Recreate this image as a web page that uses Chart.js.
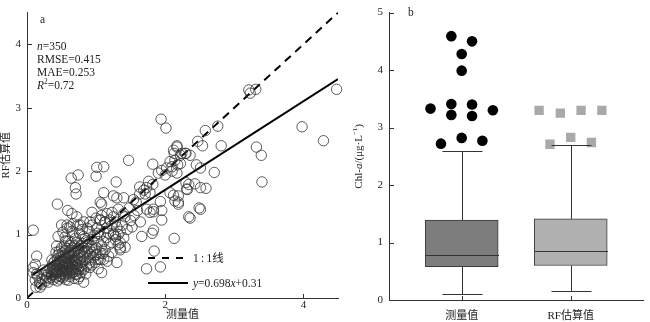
<!DOCTYPE html>
<html>
<head>
<meta charset="utf-8">
<script src="https://cdn.jsdelivr.net/npm/chart.js@4.4.1/dist/chart.umd.min.js"></script>
<style>
  html, body { margin: 0; padding: 0; background: #fff; }
  #wrap { position: relative; width: 650px; height: 322px; }
  #scatterChart { position: absolute; left: 0; top: 0; }
  #boxChart { position: absolute; left: 345px; top: 0; }
</style>
</head>
<body>
<div id="wrap">
  <canvas id="scatterChart" width="345" height="322"></canvas>
  <canvas id="boxChart" width="305" height="322"></canvas>
</div>
<script>
// ---- panel a: measured vs RF estimate (x = measured, y = RF) ----
const samples = [
  [3.21,3.28],[3.31,3.29],[3.23,3.23],[4.48,3.29],
  [2.76,2.71],[2.58,2.64],[2.47,2.47],[2.54,2.40],[2.81,2.40],[3.98,2.70],[4.29,2.48],[3.32,2.38],[3.39,2.25],
  [2.36,2.25],[2.29,2.28],[2.45,2.10],[2.51,2.05],[2.71,1.98],[3.40,1.83],[2.34,1.79],[2.43,1.80],[2.51,1.74],
  [2.59,1.73],[2.31,1.72],[2.49,1.42],[2.36,1.26],[2.51,1.40],[2.17,2.40],[2.24,2.28],[2.12,2.33],
  [1.94,2.82],[2.01,2.68],[1.47,2.17],[1.11,2.07],[1.01,2.06],[1.82,2.11],[2.17,2.38],[2.13,2.28],[2.22,2.25],
  [2.30,2.28],[2.07,2.15],[2.14,2.17],[2.18,2.10],[2.10,2.07],[2.22,2.12],[2.02,2.05],[1.95,2.01],[1.90,1.97],
  [2.00,1.94],[2.10,2.00],[2.17,1.97],
  [1.29,1.83],[1.76,1.84],[1.82,1.79],[1.63,1.75],[1.69,1.70],[1.73,1.74],[1.63,1.64],[1.71,1.64],[1.78,1.66],
  [1.54,1.55],[1.58,1.51],[1.11,1.66],[1.25,1.61],[1.30,1.58],[1.40,1.58],[1.06,1.51],[1.93,1.52],[2.07,1.66],
  [2.12,1.62],[2.19,1.61],[2.14,1.53],[2.30,1.82],[2.32,1.71],[2.19,1.51],
  [1.00,1.92],[0.74,1.94],[0.64,1.89],[0.70,1.74],[0.71,1.64],[0.44,1.48],[1.08,1.48],[0.59,1.38],[0.65,1.33],
  [0.72,1.28],[0.94,1.35],[1.00,1.26],[0.82,1.20],[0.91,1.20],[1.06,1.23],[1.13,1.20],[0.58,1.15],[0.67,1.17],
  [0.77,1.15],
  [0.09,1.07],[0.14,0.66],[0.12,0.53],[0.09,0.40],[0.15,0.35],[0.18,0.25],[0.19,0.17],[0.13,0.17],[0.09,0.48],
  [0.14,0.38],[0.12,0.28],[0.19,0.23],
  [1.64,1.20],[1.73,1.40],[1.83,1.40],[1.95,1.23],[1.83,1.07],[1.81,1.02],[1.66,0.97],[1.52,1.12],[2.13,0.94],
  [1.73,0.46],[1.93,0.49],[1.84,0.74],
  [1.30,1.12],[1.35,1.05],[1.25,1.00],[1.28,0.97],[1.32,0.84],[1.35,0.79],[1.08,0.40],[1.30,0.56],[1.03,0.61],
  [1.06,0.71],[1.01,0.79],[0.60,0.28],[0.72,0.38],[0.79,0.46],
  [1.83,1.36],[1.78,1.35],[1.95,1.38],[2.19,1.48],[2.34,1.28],[1.11,0.61],
  [1.08,1.30],[1.16,1.33],[1.23,1.35],[1.25,1.28],[1.28,1.20],[1.20,1.23],[1.13,1.20],[1.06,1.23],[1.32,1.40],
  [1.40,1.33],[1.25,1.02],[1.32,1.00],[1.28,0.92],[1.18,1.02],[1.35,0.87],[1.35,0.76],[1.06,1.00],[1.11,0.89],
  [1.08,0.82],[1.13,0.76],
  [0.45,0.97],[0.43,0.82],[0.50,1.15],[0.58,1.10],[0.65,1.05],[0.74,1.15],[0.87,1.10],[0.94,1.15],[1.01,1.10],
  [0.60,0.89],[0.70,0.94],[0.82,0.97],[0.94,0.92],[1.03,0.89],[1.01,0.69],[1.06,0.61],[0.99,0.56],[0.74,0.30],
  [0.82,0.25],[0.91,0.48],[1.03,0.46],
  // dense cluster
  [0.33,0.31],[0.38,0.29],[0.42,0.33],[0.47,0.30],[0.52,0.32],[0.56,0.29],[0.36,0.36],[0.44,0.27],
  [0.31,0.38],[0.35,0.41],[0.39,0.37],[0.43,0.40],[0.46,0.36],[0.50,0.39],[0.54,0.35],[0.58,0.38],[0.62,0.34],
  [0.66,0.40],[0.41,0.44],[0.48,0.43],[0.53,0.42],[0.57,0.44],[0.61,0.41],[0.70,0.37],
  [0.33,0.47],[0.37,0.49],[0.40,0.46],[0.44,0.50],[0.47,0.47],[0.51,0.49],[0.55,0.46],[0.59,0.50],[0.63,0.47],
  [0.67,0.45],[0.71,0.49],[0.75,0.44],[0.42,0.53],[0.46,0.55],[0.50,0.52],[0.54,0.56],[0.58,0.53],[0.62,0.55],
  [0.66,0.52],[0.70,0.54],[0.78,0.51],[0.38,0.55],
  [0.36,0.60],[0.40,0.58],[0.44,0.62],[0.48,0.59],[0.52,0.61],[0.56,0.58],[0.60,0.62],[0.64,0.59],[0.68,0.61],
  [0.72,0.58],[0.76,0.62],[0.80,0.57],[0.84,0.60],[0.49,0.65],[0.53,0.67],[0.57,0.64],[0.61,0.68],[0.65,0.65],
  [0.69,0.67],[0.73,0.64],[0.77,0.68],[0.81,0.65],[0.45,0.68],
  [0.42,0.72],[0.47,0.74],[0.51,0.71],[0.55,0.74],[0.59,0.71],[0.63,0.75],[0.67,0.72],[0.71,0.75],[0.75,0.71],
  [0.79,0.74],[0.83,0.71],[0.87,0.73],[0.91,0.69],[0.95,0.72],
  [0.50,0.79],[0.54,0.82],[0.58,0.78],[0.62,0.83],[0.66,0.79],[0.70,0.82],[0.74,0.78],[0.78,0.83],[0.82,0.79],
  [0.86,0.82],[0.90,0.78],[0.94,0.81],[0.98,0.77],[0.64,0.87],[0.72,0.88],[0.80,0.86],[0.88,0.88],[0.56,0.90],
  [0.45,0.41],[0.49,0.45],[0.52,0.48],[0.55,0.51],[0.58,0.47],[0.61,0.50],[0.64,0.44],[0.47,0.52],[0.51,0.56],
  [0.56,0.54],[0.60,0.57],[0.43,0.45],[0.39,0.42],[0.53,0.38],[0.57,0.41],[0.62,0.38],[0.66,0.49],[0.69,0.57],
  [0.73,0.52],[0.77,0.56],[0.48,0.34],[0.41,0.39],[0.35,0.33],[0.37,0.45],
  [0.70,0.42],[0.74,0.46],[0.78,0.40],[0.82,0.45],[0.86,0.50],[0.90,0.55],[0.85,0.38],[0.76,0.34],[0.68,0.31],
  [0.88,0.63],[0.92,0.60],[0.96,0.64],[0.99,0.68],[0.94,0.52],
  [0.66,0.98],[0.76,1.02],[0.84,0.94],[0.90,1.05],[0.98,0.98],[0.55,0.96],[0.52,1.04],[0.62,1.12],[0.80,1.08],
  [0.86,0.90],
  [1.15,0.95],[1.20,0.85],[1.23,0.72],[1.18,0.66],[1.40,0.95],[1.45,1.08],[1.50,1.22],[1.42,1.28],[1.55,1.30],
  [1.60,1.38],[1.48,1.42],[1.38,1.15],[1.15,1.10],[1.22,1.14],[1.02,1.02],[1.10,0.70],[1.16,0.58],[1.42,0.80],
  [0.22,0.30],[0.25,0.36],[0.28,0.32],[0.24,0.44],[0.29,0.42],[0.27,0.27],[0.31,0.25],[0.21,0.21]
];
const fitSlope = 0.698;
const fitIntercept = 0.31;
const fitFrom = 0.08;
const axisMaxA = 4.5;

// ---- panel b: box plots ----
const boxLabels = ['测量值', 'RF估算值'];
const boxLow = [0.10, 0.165];
const boxQ1 = [0.58, 0.60];
const boxMedian = [0.785, 0.86];
const boxQ3 = [1.39, 1.41];
const boxHigh = [2.60, 2.69];
// outliers as [jitter from box centre, value]
const measuredOutliers = [
  [-0.095,4.59],[0.095,4.50],[0,4.28],[0,3.99],[-0.095,3.41],[0.095,3.40],[-0.286,3.33],
  [0.286,3.30],[-0.095,3.22],[0.095,3.20],[-0.19,2.72],[0,2.82],[0.19,2.77]
];
const estimatedOutliers = [
  [-0.29,3.30],[-0.095,3.25],[0.095,3.30],[0.286,3.30],[-0.19,2.71],[0,2.83],[0.19,2.74]
];

const serif = "'Liberation Serif', 'Noto Sans CJK SC', serif";
Chart.defaults.font.family = serif;
Chart.defaults.font.size = 11;
Chart.defaults.color = '#222';
Chart.defaults.animation = false;

// small tick marks pointing into the plot
const inwardTicks = {
  id: 'inwardTicks',
  afterDraw(chart) {
    const { ctx, chartArea, scales } = chart;
    ctx.save();
    ctx.strokeStyle = '#333';
    ctx.lineWidth = 1;
    scales.x.ticks.forEach(t => {
      const px = Math.round(scales.x.getPixelForValue(t.value)) + 0.5;
      ctx.beginPath();
      ctx.moveTo(px, chartArea.bottom);
      ctx.lineTo(px, chartArea.bottom - 4);
      ctx.stroke();
    });
    scales.y.ticks.forEach(t => {
      const py = Math.round(scales.y.getPixelForValue(t.value)) + 0.5;
      ctx.beginPath();
      ctx.moveTo(chartArea.left, py);
      ctx.lineTo(chartArea.left + 5, py);
      ctx.stroke();
    });
    ctx.restore();
  }
};

// draw text made of runs: [text, italic?, superscript?]
function drawRuns(ctx, x, y, runs, size) {
  runs.forEach(([text, italic, sup]) => {
    const s = sup ? size * 0.65 : size;
    ctx.font = `${italic ? 'italic ' : ''}${s}px ${serif}`;
    ctx.fillText(text, x, sup ? y - size * 0.4 : y);
    x += ctx.measureText(text).width;
  });
}

const annotateA = {
  id: 'annotateA',
  afterDraw(chart) {
    const { ctx } = chart;
    ctx.save();
    ctx.fillStyle = '#222';
    ctx.textBaseline = 'alphabetic';
    drawRuns(ctx, 40, 23, [['a']], 11.5);
    drawRuns(ctx, 37, 50, [['n', true], ['=350']], 11.5);
    drawRuns(ctx, 37, 63, [['RMSE=0.415']], 11.5);
    drawRuns(ctx, 37, 76, [['MAE=0.253']], 11.5);
    drawRuns(ctx, 37, 89, [['R', true], ['2', false, true], ['=0.72']], 11.5);

    // legend
    ctx.strokeStyle = '#000';
    ctx.lineWidth = 2;
    ctx.setLineDash([7, 7]);
    ctx.beginPath(); ctx.moveTo(148, 258); ctx.lineTo(188, 258); ctx.stroke();
    ctx.setLineDash([]);
    ctx.beginPath(); ctx.moveTo(148, 283); ctx.lineTo(188, 283); ctx.stroke();
    drawRuns(ctx, 193, 262, [['1\u2009:\u20091线']], 11.5);
    drawRuns(ctx, 193, 287, [['y', true], ['=0.698'], ['x', true], ['+0.31']], 11.5);
    ctx.restore();
  }
};

new Chart(document.getElementById('scatterChart'), {
  type: 'scatter',
  data: {
    datasets: [
      {
        data: samples.map(([x, y]) => ({ x, y })),
        pointRadius: 5.2,
        pointBorderWidth: 0.8,
        pointBorderColor: '#333',
        pointBackgroundColor: 'rgba(0,0,0,0)',
        clip: false
      },
      {
        data: [{ x: 0, y: 0 }, { x: axisMaxA, y: axisMaxA }],
        showLine: true,
        pointRadius: 0,
        borderColor: '#000',
        borderWidth: 2,
        borderDash: [8, 6]
      },
      {
        data: [fitFrom, axisMaxA].map(x => ({ x, y: fitSlope * x + fitIntercept })),
        showLine: true,
        pointRadius: 0,
        borderColor: '#000',
        borderWidth: 2
      }
    ]
  },
  options: {
    responsive: false,
    layout: { padding: { top: 5, right: 7, left: 0, bottom: 0 } },
    plugins: { legend: { display: false }, tooltip: { enabled: false } },
    scales: {
      x: {
        min: 0, max: axisMaxA,
        grid: { display: false, drawTicks: false },
        border: { display: true, color: '#333', width: 1 },
        ticks: { stepSize: 2, includeBounds: false, padding: 1, color: '#222' },
        title: { display: true, text: '测量值', padding: 0, font: { size: 11 } },
        afterFit(s) { s.height = 24; }
      },
      y: {
        min: 0, max: axisMaxA,
        grid: { display: false, drawTicks: false },
        border: { display: true, color: '#333', width: 1 },
        ticks: { stepSize: 1, includeBounds: false, padding: 6, color: '#222' },
        title: { display: true, text: 'RF估算值', padding: 0, font: { size: 11 } },
        afterFit(s) { s.width = 27; }
      }
    }
  },
  plugins: [inwardTicks, annotateA]
});

// whiskers, caps and medians for the box plot
const whiskers = {
  id: 'whiskers',
  afterDatasetsDraw(chart) {
    const { ctx, scales: { x, y } } = chart;
    const bars = chart.getDatasetMeta(0).data;
    ctx.save();
    ctx.strokeStyle = '#333';
    ctx.lineWidth = 1;
    const seg = (x1, y1, x2, y2) => {
      ctx.beginPath(); ctx.moveTo(x1, y1); ctx.lineTo(x2, y2); ctx.stroke();
    };
    boxLabels.forEach((_, i) => {
      const cx = Math.round(x.getPixelForValue(i + 1)) + 0.5;
      const cap = 20;
      const hi = Math.round(y.getPixelForValue(boxHigh[i])) + 0.5;
      const lo = Math.round(y.getPixelForValue(boxLow[i])) + 0.5;
      seg(cx, y.getPixelForValue(boxQ3[i]), cx, hi);
      seg(cx, y.getPixelForValue(boxQ1[i]), cx, lo);
      seg(cx - cap, hi, cx + cap, hi);
      seg(cx - cap, lo, cx + cap, lo);
      const half = bars[i].width / 2;
      ctx.lineWidth = 1.2;
      const md = Math.round(y.getPixelForValue(boxMedian[i])) + 0.5;
      seg(cx - half, md, cx + half, md);
      ctx.lineWidth = 1;
    });
    ctx.restore();
  }
};

const annotateB = {
  id: 'annotateB',
  afterDraw(chart) {
    const { ctx, chartArea } = chart;
    ctx.save();
    ctx.fillStyle = '#222';
    drawRuns(ctx, 63, 16, [['b']], 11.5);
    // rotated y-axis title with italic a and superscript −1
    ctx.translate(14, (chartArea.top + chartArea.bottom) / 2);
    ctx.rotate(-Math.PI / 2);
    ctx.textBaseline = 'middle';
    const parts = [['Chl-', false], ['a', true], ['/(μg·L', false], ['−1', false, true], [')', false]];
    let w = 0;
    parts.forEach(([t, it, sup]) => {
      ctx.font = `${it ? 'italic ' : ''}${sup ? 7 : 11}px ${serif}`;
      w += ctx.measureText(t).width;
    });
    let x = -w / 2;
    parts.forEach(([t, it, sup]) => {
      ctx.font = `${it ? 'italic ' : ''}${sup ? 7 : 11}px ${serif}`;
      ctx.fillText(t, x, sup ? -4 : 0);
      x += ctx.measureText(t).width;
    });
    ctx.restore();
  }
};

new Chart(document.getElementById('boxChart'), {
  type: 'scatter',
  data: {
    datasets: [
      {
        type: 'bar',
        data: boxLabels.map((_, i) => ({ x: i + 1, y: [boxQ1[i], boxQ3[i]] })),
        backgroundColor: ['#7d7d7d', '#b0b0b0'],
        borderColor: '#3a3a3a',
        borderWidth: 1,
        borderSkipped: false,
        barThickness: 73
      },
      {
        data: measuredOutliers.map(([j, v]) => ({ x: 1 + j, y: v })),
        pointRadius: 5.3,
        pointBackgroundColor: '#000',
        pointBorderWidth: 0
      },
      {
        data: estimatedOutliers.map(([j, v]) => ({ x: 2 + j, y: v })),
        pointStyle: 'rect',
        pointRadius: 6.6,
        pointBackgroundColor: '#a9a9a9',
        pointBorderWidth: 0
      }
    ]
  },
  options: {
    responsive: false,
    layout: { padding: { top: 5, right: 0, left: 0, bottom: 0 } },
    plugins: { legend: { display: false }, tooltip: { enabled: false } },
    scales: {
      x: {
        type: 'linear',
        min: 1 / 3, max: 8 / 3,
        offset: false,
        grid: { display: false, drawTicks: false },
        border: { display: true, color: '#333', width: 1 },
        afterBuildTicks(s) { s.ticks = boxLabels.map((_, i) => ({ value: i + 1 })); },
        ticks: { padding: 10, color: '#222', font: { size: 11 }, callback: (v, i) => boxLabels[i] },
        afterFit(s) { s.height = 22; }
      },
      y: {
        min: 0, max: 5,
        grid: { display: false, drawTicks: false },
        border: { display: true, color: '#333', width: 1 },
        ticks: { stepSize: 1, padding: 6, color: '#222' },
        afterFit(s) { s.width = 44; }
      }
    }
  },
  plugins: [whiskers, inwardTicks, annotateB]
});
</script>
</body>
</html>
